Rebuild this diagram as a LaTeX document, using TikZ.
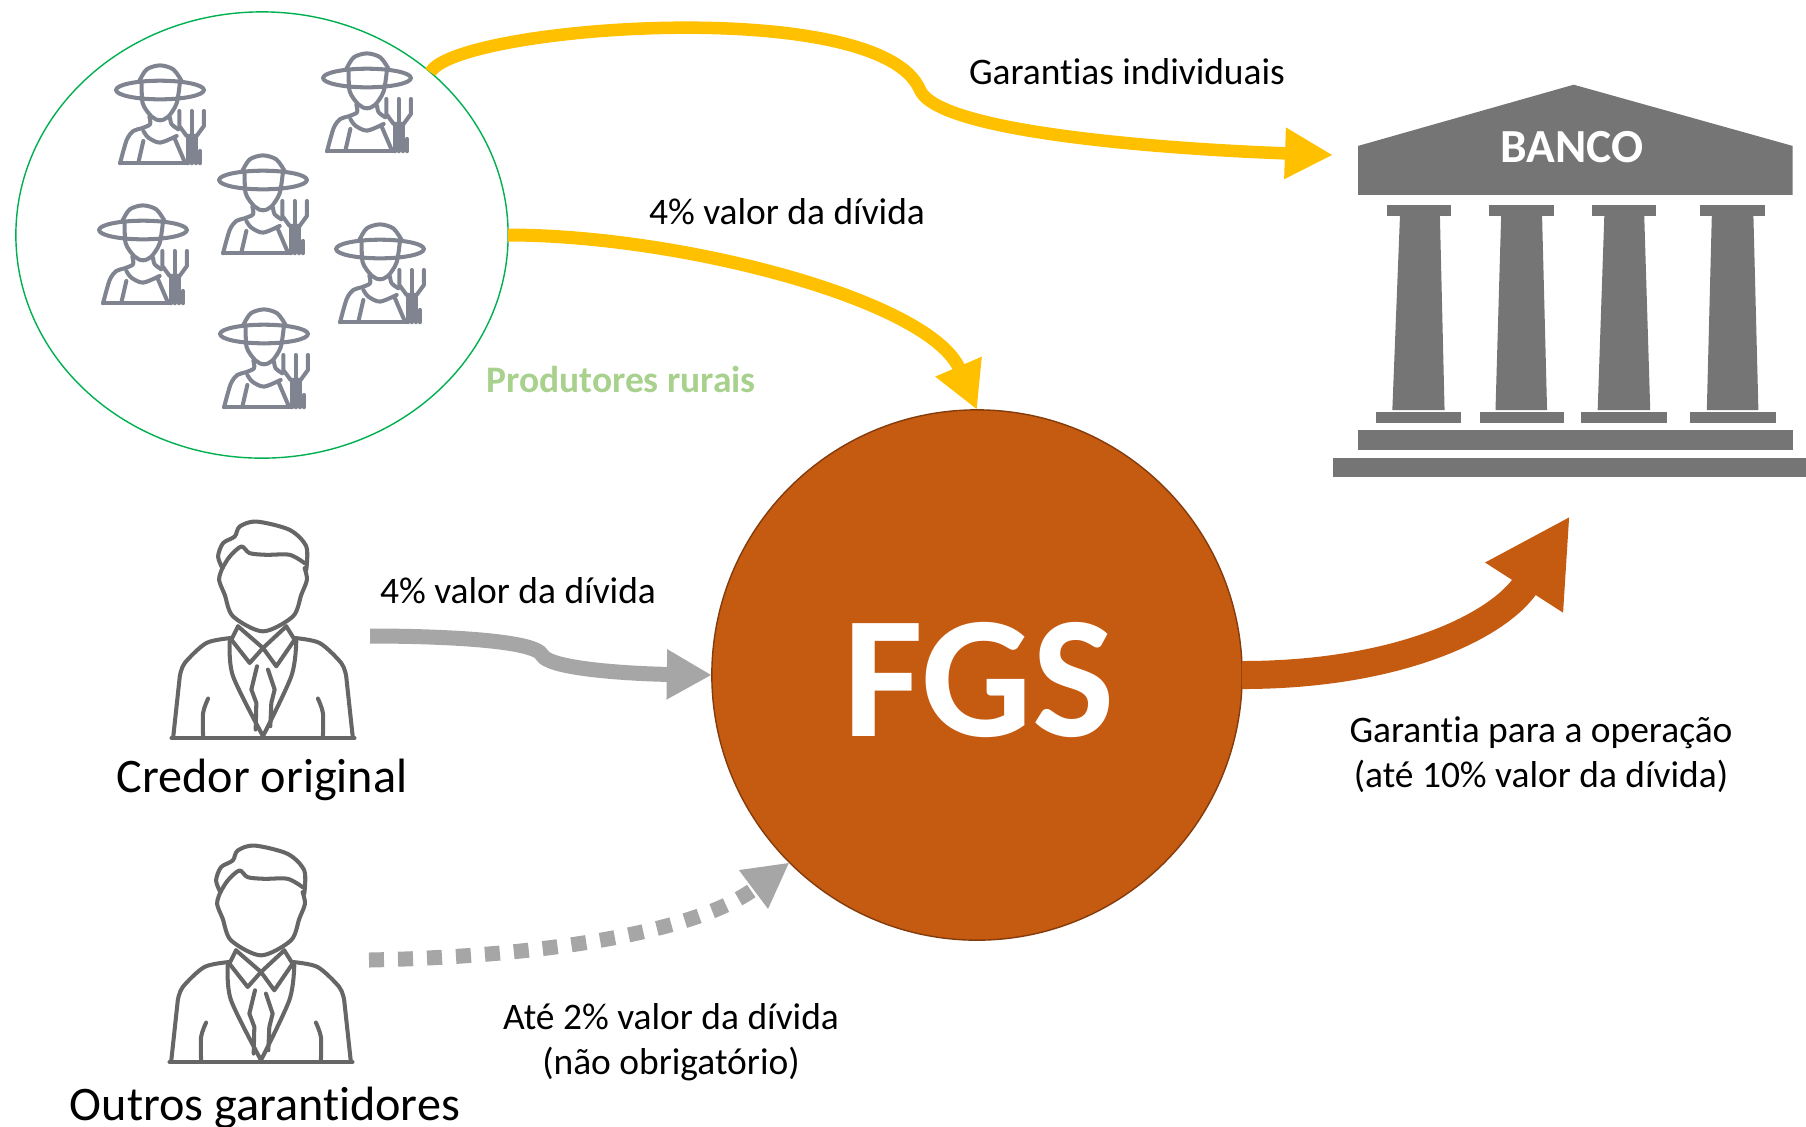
\documentclass[tikz,border=0pt]{standalone}
\usepackage{fontspec}
\setmainfont[Ligatures=NoCommon]{Carlito}
\usetikzlibrary{arrows.meta,shapes.geometric}

\definecolor{garantia}{HTML}{FFC000}
\definecolor{fundo}{HTML}{C55A11}
\definecolor{fundoborda}{HTML}{843C0C}
\definecolor{aporte}{HTML}{A6A6A6}
\definecolor{predio}{HTML}{757575}
\definecolor{produtor}{HTML}{7F8490}
\definecolor{pessoa}{HTML}{666666}
\definecolor{grupo}{HTML}{00B050}
\definecolor{grupotexto}{HTML}{A9D18E}

\tikzset{
	rotulo/.style = {font = \fontsize{10.65}{12.8}\selectfont, align = center},
	rotulogrande/.style = {font = \fontsize{13.7}{17}\selectfont},
	traco/.style = {line width = 1.15pt, line join = round, line cap = round},
	farmer/.pic = {
		\begin{scope}[x = 0.003333cm, y = -0.003333cm, traco, draw = produtor]
			\draw (0, 0) ellipse [x radius = 132, y radius = 28];
			\draw plot [smooth] coordinates {(-62, -27) (-40, -62) (0, -74) (40, -62) (65, -27)};
			\draw plot [smooth] coordinates {(-55, -25) (-52, 40) (-25, 80) (0, 91) (25, 80) (50, 40) (60, -25)};
			\draw plot [smooth] coordinates {(-32, 80) (-30, 103) (-55, 115) (-80, 123) (-100, 150) (-120, 220)};
			\draw plot [smooth] coordinates {(30, 83) (35, 103) (55, 118)};
			\draw plot [smooth] coordinates {(-50, 123) (-35, 143) (0, 158) (50, 138)};
			\draw (-120, 220) -- (80, 220);
			\draw (-50, 153) -- (-65, 218);
			\draw (45, 148) -- (75, 218);
			\draw (58, 63) -- (58, 108) -- (80, 138) -- (110, 138) -- (132, 108) -- (132, 63);
			\draw (95, 63) -- (95, 220);
			\draw (85, 138) -- (85, 220);
			\draw (108, 138) -- (108, 220);
			\draw (120, 183) -- (120, 220);
		\end{scope}
	},
	person/.pic = {
		\begin{scope}[x = 0.003333cm, y = -0.003333cm, traco, draw = pessoa]
			\draw plot [smooth] coordinates {(-122, -195) (-135, -230) (-120, -270) (-85, -290) (-70, -320) (-20, -335) (80, -310) (130, -260) (130, -190)};
			\draw plot [smooth] coordinates {(-122, -195) (-100, -230) (-65, -260) (-40, -240) (10, -235) (80, -235) (125, -210)};
			\draw plot [smooth] coordinates {(-122, -195) (-132, -160) (-115, -115) (-90, -50) (0, -5) (90, -50) (115, -115) (132, -160) (125, -195)};
			\draw (-75, -20) -- (-95, 20) -- (-40, 90) -- (0, 45) -- (40, 100) -- (95, 20) -- (70, -20);
			\draw (-75, -20) -- (0, 45) -- (70, -20);
			\draw plot [smooth] coordinates {(-95, 15) (-170, 30) (-235, 90) (-250, 130)} -- (-270, 315);
			\draw plot [smooth] coordinates {(95, 15) (170, 30) (235, 90) (250, 130)} -- (270, 315);
			\draw (-275, 315) -- (275, 315);
			\draw plot [smooth] coordinates {(-100, 25) (-90, 130) (0, 310)};
			\draw plot [smooth] coordinates {(100, 25) (85, 130) (0, 310)};
			\draw (-18, 100) -- (-35, 170) -- (-20, 210) -- (-22, 290);
			\draw (15, 110) -- (35, 170) -- (25, 210) -- (22, 280);
			\draw plot [smooth] coordinates {(-165, 197) (-180, 240) (-180, 310)};
			\draw plot [smooth] coordinates {(165, 197) (180, 240) (180, 310)};
		\end{scope}
	}
}

\begin{document}
\begin{tikzpicture}[x = 0.01cm, y = -0.01cm]

	\useasboundingbox (0, 0) rectangle (1806, 1126);

	% Produtores

	\node [ellipse, draw = grupo, minimum width = 4.92cm, minimum height = 4.46cm, inner sep = 0pt, outer sep = 0pt] (produtores) at (262, 235) {};

	\foreach \px/\py in {160/90, 367/78, 263/180, 143/230, 380/249, 264/334}
		\pic at (\px, \py) {farmer};

	% Credor, garantidores

	\pic at (263, 633) {person};
	\pic at (261, 957) {person};

	% Fundo

	\node [circle, fill = fundo, draw = fundoborda, minimum size = 5.3cm, inner sep = 0pt, outer sep = 0pt] (fgs) at (977, 675) {};
	\node [font = \fontsize{49.5}{55}\selectfont\bfseries, text = white] (fgstexto) at (979, 680) {FGS};

	% Banco

	\begin{scope}[xshift = 13.2cm, yshift = -0.7cm, x = 0.003333cm, y = -0.003333cm, predio]

		\fill (112, 228) -- (760, 44) -- (1418, 228) -- (1418, 375) -- (112, 375) -- cycle;

		\foreach \capl/\capr/\topl/\topr/\botl/\botr/\basl/\basr in {
			200/390/238/358/215/372/165/422,
			505/700/542/665/525/680/478/730,
			815/1008/852/972/832/990/783/1040,
			1140/1335/1175/1300/1160/1315/1110/1367}
		{
			\fill (\capl, 405) rectangle (\capr, 438);
			\fill (\topl, 438) -- (\topr, 438) -- (\botr, 1022) -- (\botl, 1022) -- cycle;
			\fill (\basl, 1026) rectangle (\basr, 1060);
		}

		\fill (112, 1082) rectangle (1420, 1142);
		\fill (38, 1165) rectangle (1458, 1222);

	\end{scope}

	\node [font = \fontsize{13.5}{15}\selectfont\bfseries, text = white] (banco) at (1572, 147) {BANCO};

	\coordinate (bancolado) at (1333, 155);
	\coordinate (bancobase) at (1570, 516);
	\coordinate (credor) at (370, 636);
	\coordinate (garantidores) at (369, 960);

	% Arrows

	\begin{scope}[draw = garantia]

		\draw [line width = 0.125cm, -{Triangle[length = 0.48cm, width = 0.48cm]}] (produtores.44) .. controls (455, 26) and (880, -6) .. (920, 90) .. controls (940, 135) and (1190, 150) .. (bancolado);
		\draw [line width = 0.13cm, -{Triangle[length = 0.47cm, width = 0.47cm]}] (produtores.east) .. controls (680, 235) and (930, 300) .. (fgs.north);

	\end{scope}

	\begin{scope}[line width = 0.15cm, draw = aporte]

		\draw [-{Triangle[length = 0.45cm, width = 0.47cm]}] (credor) .. controls (440, 636) and (535, 640) .. (542, 655) .. controls (550, 670) and (640, 674) .. (fgs.west);
		\draw [dash pattern = on 0.15cm off 0.14cm, -{Triangle[length = 0.45cm, width = 0.45cm]}] (garantidores) .. controls (520, 957) and (690, 937) .. (fgs.225);

	\end{scope}

	\draw [line width = 0.28cm, draw = fundo, -{Triangle[length = 0.85cm, width = 0.86cm]}] (fgs.east) .. controls (1400, 675) and (1500, 625) .. (bancobase);

	% Labels

	\node [rotulo] (lblindividuais) at (1127, 72) {Garantias individuais};
	\node [rotulo] (lbldivida) at (787, 212) {4\% valor da dívida};
	\node [rotulo, font = \fontsize{10.65}{12.8}\selectfont\bfseries, text = grupotexto] (lblprodutores) at (621, 379) {Produtores rurais};
	\node [rotulo] (lblcredor) at (518, 591) {4\% valor da dívida};
	\node [rotulo] (lbloperacao) at (1541, 755) {Garantia para a operação\\(até 10\% valor da dívida)};
	\node [rotulo] (lblopcional) at (671, 1042) {Até 2\% valor da dívida\\(não obrigatório)};
	\node [rotulogrande] (lbloriginal) at (262, 780) {Credor original};
	\node [rotulogrande] (lbloutros) at (265, 1108) {Outros garantidores};

\end{tikzpicture}
\end{document}
